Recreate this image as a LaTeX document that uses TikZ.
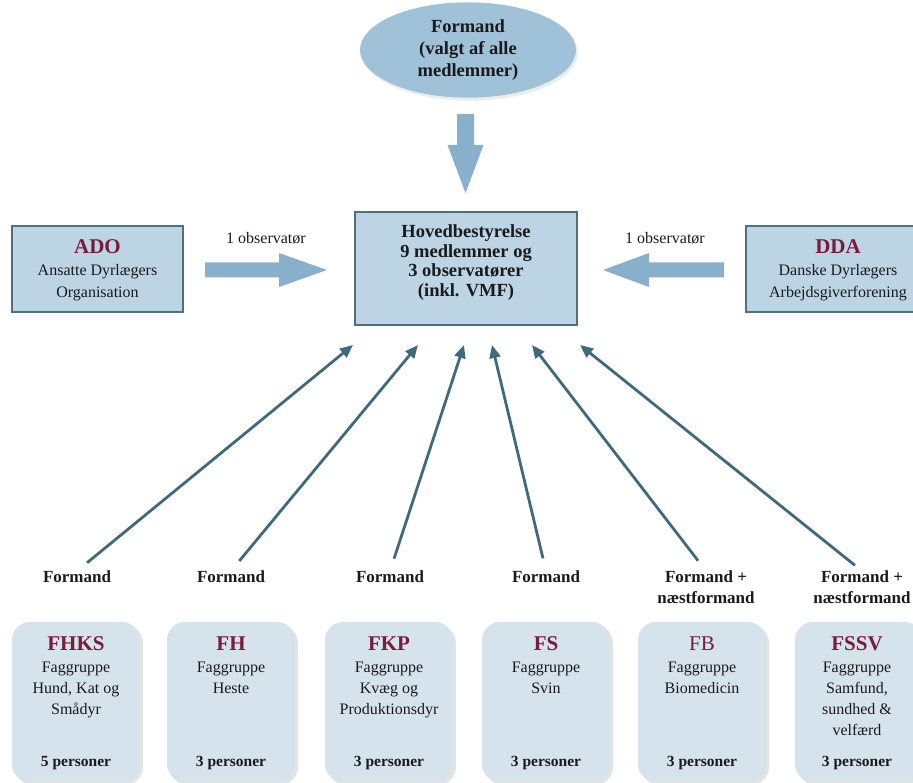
\documentclass[tikz,border=0pt]{standalone}
\usepackage{fontspec}
\setmainfont{Liberation Serif}
\usetikzlibrary{shadows,arrows.meta,calc,shapes.geometric}
\definecolor{boxfill}{HTML}{BDD4E4}
\definecolor{boxline}{HTML}{51707F}
\definecolor{ellfill}{HTML}{A0C2D9}
\definecolor{bigarrow}{HTML}{88B0CC}
\definecolor{groupfill}{HTML}{D5E3EC}
\definecolor{darkred}{HTML}{7B1B3A}
\definecolor{diag}{HTML}{40697E}
\definecolor{txt}{HTML}{1A1A1A}
\begin{document}
\begin{tikzpicture}[x=1pt,y=-1pt,
  orgbox/.style={draw=boxline, line width=2pt, fill=boxfill, minimum width=171pt, minimum height=86pt},
  mainbox/.style={draw=boxline, line width=2pt, fill=boxfill, minimum width=222pt, minimum height=113pt},
  maintext/.style={align=center, font=\fontsize{18.5}{19.8}\selectfont\bfseries, text=txt, inner sep=0pt},
  ellnode/.style={ellipse, fill=ellfill, minimum width=216pt, minimum height=86pt, align=center, font=\fontsize{18.5}{22}\selectfont\bfseries, text=txt, drop shadow={shadow xshift=2pt, shadow yshift=-3pt, opacity=0.15, fill=gray}},
  grpbox/.style={rounded corners=18pt, fill=groupfill, minimum width=128pt, minimum height=160pt, drop shadow={shadow xshift=3pt, shadow yshift=-3pt, opacity=0.22, fill=gray}},
  title/.style={font=\fontsize{21}{24}\selectfont\bfseries, text=darkred, inner sep=0pt},
  body/.style={font=\fontsize{16}{21}\selectfont, text=txt, align=center, inner sep=0pt},
  orgbody/.style={font=\fontsize{16}{22}\selectfont, text=txt, align=center, inner sep=0pt},
  pers/.style={font=\fontsize{15.5}{20}\selectfont\bfseries, text=txt, inner sep=0pt},
  lbl/.style={font=\fontsize{17}{21}\selectfont\bfseries, text=txt, align=center, inner sep=0pt},
  obs/.style={font=\fontsize{16}{20}\selectfont, text=txt, inner sep=0pt},
  diagarrow/.style={draw=diag, line width=2.8pt, -{Triangle[length=13pt,width=11pt]}, shorten <=13pt},
  bigarr/.style={fill=bigarrow}
]
\useasboundingbox (0,0) rectangle (913,783);
\clip (0,0) rectangle (913,783);

% top ellipse
\node[ellnode] (chair) at (468,50) {Formand\\(valgt af alle\\medlemmer)};

% big down arrow
\fill[bigarr] (457,114) -- (474,114) -- (474,145) -- (483.5,145) -- (465.5,193) -- (447.5,145) -- (457,145) -- cycle;

% main board
\node[mainbox] (hb) at (466,268.5) {};
\node[maintext] (hbt) at (466,262.5) {Hovedbestyrelse\\9 medlemmer og\\3 observatører\\(inkl. VMF)};

% ADO
\node[orgbox] (ado) at (97.5,269) {};
\node[title] (adot) at (97.5,247) {ADO};
\node[orgbody] (adob) at (97.5,283) {Ansatte Dyrlægers\\Organisation};

% DDA
\node[orgbox, minimum width=182pt] (dda) at (837,269) {};
\node[title] (ddat) at (838,247) {DDA};
\node[orgbody] (ddab) at (838,283) {Danske Dyrlægers\\Arbejdsgiverforening};

% horizontal arrows
\fill[bigarr] (205,262.5) -- (279,262.5) -- (279,253) -- (327,270) -- (279,287) -- (279,277.5) -- (205,277.5) -- cycle;
\node[obs] (obsl) at (266,238) {1 observatør};
\fill[bigarr] (724,262.5) -- (649,262.5) -- (649,253) -- (603,270) -- (649,287) -- (649,277.5) -- (724,277.5) -- cycle;
\node[obs] (obsr) at (665,238) {1 observatør};

% arrow tips
\coordinate (t1) at (353,345);
\coordinate (t2) at (418,345);
\coordinate (t3) at (464,345);
\coordinate (t4) at (492,345);
\coordinate (t5) at (532,345);
\coordinate (t6) at (580,345);

% labels
\node[lbl, anchor=north] (f1) at (77,571) {Formand};
\node[lbl, anchor=north] (f2) at (231,571) {Formand};
\node[lbl, anchor=north] (f3) at (390,571) {Formand};
\node[lbl, anchor=north] (f4) at (546,571) {Formand};
\node[lbl, anchor=north] (f5) at (706,571) {Formand +\\næstformand};
\node[lbl, anchor=north] (f6) at (862,571) {Formand +\\næstformand};

\draw[diagarrow] (f1.north) -- (t1);
\draw[diagarrow] (f2.north) -- (t2);
\draw[diagarrow] (f3.north) -- (t3);
\draw[diagarrow] (f4.north) -- (t4);
\draw[diagarrow] (f5.north) -- (t5);
\draw[diagarrow, shorten <=9pt] (f6.north) -- (t6);

% group boxes
\node[grpbox] (g1) at (76,702) {};
\node[grpbox] (g2) at (231,702) {};
\node[grpbox] (g3) at (389,702) {};
\node[grpbox] (g4) at (546,702) {};
\node[grpbox] (g5) at (702,702) {};
\node[grpbox] (g6) at (859,702) {};

\node[title] (g1t) at (76,644) {FHKS};
\node[body, anchor=north] (g1b) at (76,662) {Faggruppe\\Hund, Kat og\\Smådyr};
\node[pers] (g1p) at (76,763) {5 personer};

\node[title] (g2t) at (231,644) {FH};
\node[body, anchor=north] (g2b) at (231,662) {Faggruppe\\Heste};
\node[pers] (g2p) at (231,763) {3 personer};

\node[title] (g3t) at (389,644) {FKP};
\node[body, anchor=north] (g3b) at (389,662) {Faggruppe\\Kvæg og\\Produktionsdyr};
\node[pers] (g3p) at (389,763) {3 personer};

\node[title] (g4t) at (546,644) {FS};
\node[body, anchor=north] (g4b) at (546,662) {Faggruppe\\Svin};
\node[pers] (g4p) at (546,763) {3 personer};

\node[title, font=\fontsize{21}{24}\selectfont] (g5t) at (702,644) {FB};
\node[body, anchor=north] (g5b) at (702,662) {Faggruppe\\Biomedicin};
\node[pers] (g5p) at (702,763) {3 personer};

\node[title] (g6t) at (857,644) {FSSV};
\node[body, anchor=north] (g6b) at (857,662) {Faggruppe\\Samfund,\\sundhed \&\\velfærd};
\node[pers] (g6p) at (857,763) {3 personer};
\end{tikzpicture}
\end{document}
